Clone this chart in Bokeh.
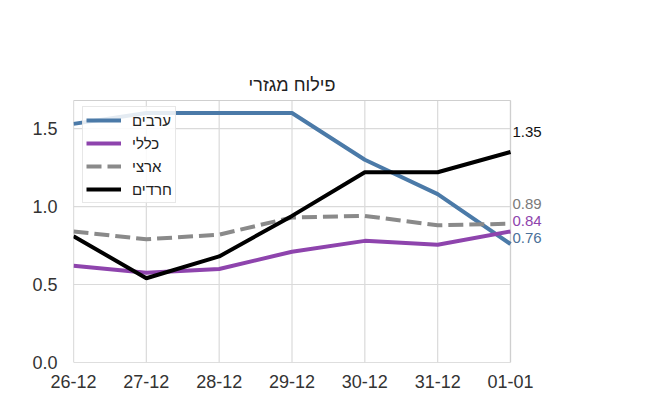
from bokeh.plotting import figure
from bokeh.models import Range1d, FixedTicker, Legend, LegendItem
from bokeh.core.properties import value
from bokeh.embed import file_html
from bokeh.resources import INLINE

# ---- data ----
dates = ["26-12", "27-12", "28-12", "29-12", "30-12", "31-12", "01-01"]
arabs = [1.53, 1.60, 1.60, 1.60, 1.30, 1.08, 0.76]
general = [0.62, 0.575, 0.60, 0.71, 0.78, 0.755, 0.84]
national = [0.84, 0.79, 0.82, 0.93, 0.94, 0.88, 0.89]
haredim = [0.81, 0.54, 0.68, 0.94, 1.22, 1.22, 1.35]
series_names = ["ערבים", "כללי", "ארצי", "חרדים"]
title_text = "פילוח מגזרי"
y_ticks = [0.0, 0.5, 1.0, 1.5]
y_max = 1.68

# ---- style ----
colors = ["#4b7aa8", "#8e44ad", "#8a8a8a", "#000000"]
label_colors = ["#4b7098", "#8e44ad", "#7a7a7a", "#111111"]
dashes = ["solid", "solid", "15 6", "solid"]
label_dy = [6, 11, 20, 20]
FONT = "Liberation Sans"
GRID = "#dadada"

xs = list(range(len(dates)))
series = [arabs, general, national, haredim]
x_last = xs[-1]

# frame: left 73, bottom 362; the data area spans 437 x 262 px,
# the frame is extended to the canvas edges so that outer texts are not clipped
px_x = 437 / x_last
px_y = 262 / y_max
x_end = x_last + 142 / px_x
y_end = y_max + 100 / px_y

p = figure(width=652, height=397, output_backend="svg", toolbar_location=None,
           x_range=Range1d(0, x_end), y_range=Range1d(0, y_end),
           min_border_left=73, min_border_right=0, min_border_top=0,
           min_border_bottom=35)
p.title.visible = False
p.outline_line_color = None
p.background_fill_color = "white"
p.border_fill_color = "white"
p.grid.visible = False

p.xaxis.ticker = FixedTicker(ticks=xs)
p.xaxis.major_label_overrides = {i: d for i, d in zip(xs, dates)}
p.yaxis.ticker = FixedTicker(ticks=y_ticks)
p.yaxis.major_label_overrides = {t: f"{t:.1f}" for t in y_ticks}
for ax in (p.xaxis[0], p.yaxis[0]):
    ax.axis_line_color = None
    ax.major_tick_line_color = None
    ax.minor_tick_line_color = None
    ax.major_label_text_font = FONT
    ax.major_label_text_font_size = "18px"
    ax.major_label_text_color = "#333333"
p.xaxis.major_label_standoff = 6
p.yaxis.major_label_standoff = 10

# grid and frame of the data area
p.segment(x0=xs, y0=[0] * len(xs), x1=xs, y1=[y_max] * len(xs),
          line_color=GRID, line_width=1.2)
p.segment(x0=[0] * len(y_ticks), y0=y_ticks, x1=[x_last] * len(y_ticks), y1=y_ticks,
          line_color=GRID, line_width=1.2)
p.segment(x0=[0, 0, 0, x_last], y0=[0, y_max, 0, 0],
          x1=[x_last, x_last, 0, x_last], y1=[0, y_max, y_max, y_max],
          line_color="#cfcfcf", line_width=1.2)

items = []
for name, vals, c, d in zip(series_names, series, colors, dashes):
    r = p.line(xs, vals, line_width=4, line_color=c, line_dash=d)
    items.append(LegendItem(label=name, renderers=[r]))

legend = Legend(items=items, location=(9, 159))
legend.label_text_font = FONT
legend.label_text_font_size = "15px"
legend.label_text_color = "#222222"
legend.glyph_width = 35
legend.glyph_height = 20
legend.label_height = 20
legend.spacing = 3
legend.padding = 3
legend.label_standoff = 11
legend.border_line_color = "#d0d0d0"
legend.background_fill_alpha = 0.85
p.add_layout(legend)

# end-of-line value labels
for vals, c, dy in zip(series, label_colors, label_dy):
    p.text(x=[x_last], y=[vals[-1]], text=[f"{vals[-1]:.2f}"], x_offset=2, y_offset=-dy,
           text_color=c, text_font=value(FONT), text_font_size="15px",
           text_baseline="middle", text_align="left")

# title
p.text(x=[x_last / 2], y=[y_max], text=[title_text], y_offset=-16,
       text_font=value(FONT), text_font_size="18px", text_color="#222222",
       text_align="center", text_baseline="middle")

open("out.html", "w").write(file_html(p, INLINE))
